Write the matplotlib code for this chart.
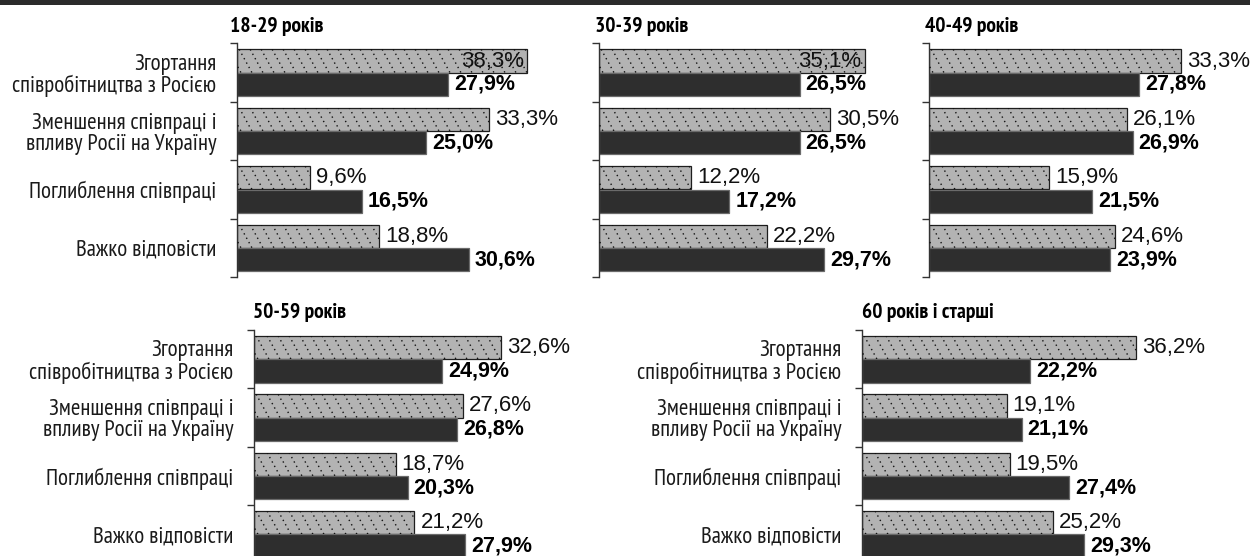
import numpy as np
import matplotlib
matplotlib.use("Agg")
import matplotlib.pyplot as plt
from matplotlib import font_manager
from matplotlib.collections import LineCollection
from matplotlib.patches import Rectangle

# answer options (same for every age group)
categories = [
    "Згортання\nспівробітництва з Росією",
    "Зменшення співпраці і\nвпливу Росії на Україну",
    "Поглиблення співпраці",
    "Важко відповісти",
]

age_groups = ["18-29 років", "30-39 років", "40-49 років", "50-59 років", "60 років і старші"]

# hatched (light) and solid (dark) bars for each age group, %
light_18_29 = [38.3, 33.3, 9.6, 18.8]
dark_18_29 = [27.9, 25.0, 16.5, 30.6]
light_30_39 = [35.1, 30.5, 12.2, 22.2]
dark_30_39 = [26.5, 26.5, 17.2, 29.7]
light_40_49 = [33.3, 26.1, 15.9, 24.6]
dark_40_49 = [27.8, 26.9, 21.5, 23.9]
light_50_59 = [32.6, 27.6, 18.7, 21.2]
dark_50_59 = [24.9, 26.8, 20.3, 27.9]
light_60 = [36.2, 19.1, 19.5, 25.2]
dark_60 = [22.2, 21.1, 27.4, 29.3]

W, H = 1250, 556
PX_PER_PCT = 7.57      # horizontal scale shared by all panels
GROUP_PX = 58.4        # height of one answer group
LABEL_ROOM = 8.5       # space (in %) a value label needs right of its bar

GRAY = "#b3b3b3"
DARK = "#2e2e2e"


def pick_font(candidates, fallback="Liberation Sans"):
    # first narrow family that is installed and has Cyrillic glyphs
    by_name = {}
    for f in font_manager.fontManager.ttflist:
        by_name.setdefault(f.name, f.fname)
    for name in candidates:
        if name in by_name:
            try:
                ft = font_manager.get_font(by_name[name])
                if ft.get_char_index(ord("я")) and ft.get_char_index(ord("ї")):
                    return name
            except Exception:
                pass
    return fallback


NARROW = pick_font(["PT Sans Narrow", "Roboto Condensed", "Fira Sans Condensed",
                    "IBM Plex Sans Condensed", "Sofia Sans Condensed", "Open Sans Condensed",
                    "Liberation Sans Narrow"])
REGULAR = "Liberation Sans"
LABEL_SIZE = 16.5
TITLE_SIZE = 15.5

fig = plt.figure(figsize=(W / 100, H / 100), dpi=100)
fig.add_artist(Rectangle((0, 1 - 5 / H), 1, 5 / H, transform=fig.transFigure,
                         color="#2b2b2b", lw=0))


def dotted_hatch(ax, bars, step_px=11, slant=0.55):
    # dotted "\" texture, clipped to each bar
    for bar in bars:
        x0, y0 = bar.get_x(), bar.get_y()
        w, h = bar.get_width(), bar.get_height()
        h_px = h * GROUP_PX
        segs = []
        k = -slant * h_px + 4
        while k < w * PX_PER_PCT:
            segs.append([(x0 + k / PX_PER_PCT, y0),
                         (x0 + (k + slant * h_px) / PX_PER_PCT, y0 + h)])
            k += step_px
        lc = LineCollection(segs, colors="#111111", linewidths=1.0,
                            linestyles=[(0, (1.0, 2.6))], zorder=3)
        ax.add_collection(lc)
        lc.set_clip_path(bar)


def fmt(v):
    return f"{v:.1f}%".replace(".", ",")


def panel(title, light, dark, left, top, right, show_labels, title_x):
    bottom = top + 4 * GROUP_PX
    ax = fig.add_axes([left / W, 1 - bottom / H, (right - left) / W, (bottom - top) / H])
    xmax = (right - left) / PX_PER_PCT
    y = np.arange(len(categories))

    gray_bars = ax.barh(y - 0.2, light, height=0.4, color=GRAY,
                        edgecolor="#1e1e1e", linewidth=0.9, zorder=2)
    ax.barh(y + 0.2, dark, height=0.4, color=DARK,
            edgecolor="#6a6a6a", linewidth=0.9, zorder=2)
    dotted_hatch(ax, gray_bars)

    gap = 6 / PX_PER_PCT
    for yi, v in zip(y, light):
        if v + LABEL_ROOM > xmax:
            ax.text(v - 3 / PX_PER_PCT, yi - 0.2, fmt(v), ha="right", va="center",
                    fontsize=16, family=REGULAR, color="#111111", zorder=4)
        else:
            ax.text(v + gap, yi - 0.2, fmt(v), ha="left", va="center",
                    fontsize=16, family=REGULAR, color="#111111", zorder=4)
    for yi, v in zip(y, dark):
        ax.text(v + gap, yi + 0.2, fmt(v), ha="left", va="center",
                fontsize=15.5, family=REGULAR, fontweight="bold", color="black", zorder=4)

    ax.set_xlim(0, xmax)
    ax.set_ylim(len(categories) - 0.5, -0.5)

    ax.set_yticks(y)
    if show_labels:
        ax.set_yticklabels(categories, family=NARROW, fontsize=LABEL_SIZE, color="#1a1a1a",
                           linespacing=1.02)
    else:
        ax.set_yticklabels([])
    ax.set_yticks(np.arange(len(categories) + 1) - 0.5, minor=True)
    ax.tick_params(axis="y", which="major", length=0, pad=15)
    ax.tick_params(axis="y", which="minor", length=5, width=1, color="#333333")
    ax.set_xticks([])

    for side in ("top", "right", "bottom"):
        ax.spines[side].set_visible(False)
    ax.spines["left"].set_color("#333333")
    ax.spines["left"].set_linewidth(1)
    ax.set_facecolor("none")

    fig.text(title_x / W, 1 - (top - 12) / H, title, ha="left", va="baseline",
             family=NARROW, fontweight="bold", fontsize=TITLE_SIZE, color="black")


panel(age_groups[0], light_18_29, dark_18_29, 237, 43.5, 590, True, 230)
panel(age_groups[1], light_30_39, dark_30_39, 599, 43.5, 905, False, 595)
panel(age_groups[2], light_40_49, dark_40_49, 929, 43.5, 1250, False, 925)
panel(age_groups[3], light_50_59, dark_50_59, 254, 330, 600, True, 253)
panel(age_groups[4], light_60, dark_60, 862, 330, 1250, True, 862)

fig.savefig("out.png", dpi=100)
